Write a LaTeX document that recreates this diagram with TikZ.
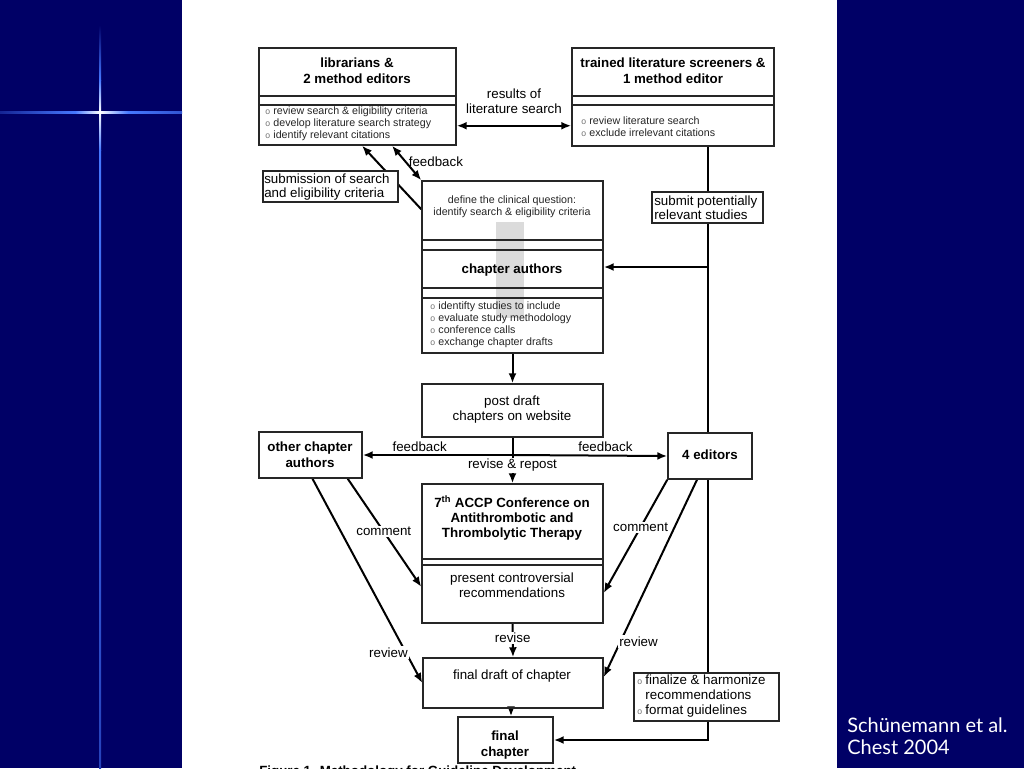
\documentclass[tikz,border=0pt]{standalone}
\usepackage{fontspec}
\setmainfont{Liberation Sans}
\newfontfamily\creditfont{Lato}
\usetikzlibrary{arrows.meta,fit,calc}
\definecolor{bgnavy}{RGB}{0,0,102}
\definecolor{starblue}{RGB}{70,120,255}
\newcommand{\bul}{{\color{black!55}\fontsize{6.5}{6.5}\selectfont o}\hspace{2.5pt}}
\pgfdeclarelayer{back}
\pgfdeclarelayer{lines}
\pgfsetlayers{back,lines,main}
\tikzset{
  frm/.style={draw=black!85, line width=1.1pt, inner sep=0pt},
  wfrm/.style={draw=black!85, fill=white, line width=1.1pt, inner sep=0pt},
  ttl/.style={font=\fontsize{10}{12}\selectfont\bfseries, align=center, inner sep=0pt},
  txt/.style={font=\fontsize{10}{11.25}\selectfont, align=center, inner sep=0pt},
  ltxt/.style={font=\fontsize{10}{10.8}\selectfont, align=left, inner sep=0pt},
  sml/.style={font=\fontsize{8}{9}\selectfont, align=left, inner sep=0pt, text=black!85},
  smc/.style={font=\fontsize{8}{9}\selectfont, align=center, inner sep=0pt, text=black!85},
  lbl/.style={font=\fontsize{10}{12}\selectfont, fill=white, inner sep=1pt},
  plbl/.style={font=\fontsize{10}{12}\selectfont, inner sep=1pt},
  ln/.style={line width=1.5pt},
  sep/.style={line width=1.1pt, draw=black!85},
  arr/.style={line width=1.5pt, -{Latex[length=7.5pt,width=6pt]}},
  dbl/.style={line width=1.5pt, {Latex[length=7.5pt,width=6pt]}-{Latex[length=7.5pt,width=6pt]}}
}
\begin{document}
\begin{tikzpicture}[x=0.75pt,y=-0.75pt]
\useasboundingbox (0,0) rectangle (1024,768);
\begin{pgfonlayer}{back}
% background
\fill[bgnavy] (0,0) rectangle (1024,768);
\fill[white] (182,0) rectangle (837,768);
% star
\shade[left color=bgnavy!70!starblue, right color=starblue] (0,111) rectangle (75,113);
\shade[left color=starblue, right color=white] (75,111) rectangle (100,113);
\shade[left color=white, right color=starblue] (100,111) rectangle (128,113);
\shade[left color=starblue, right color=bgnavy!30!starblue] (128,111) rectangle (182,113);
\shade[top color=bgnavy, bottom color=starblue] (99,25) rectangle (101,80);
\shade[top color=starblue, bottom color=white] (99,80) rectangle (101,112);
\shade[top color=white, bottom color=starblue] (99,112) rectangle (101,150);
\shade[top color=starblue, bottom color=bgnavy!45!starblue] (99,150) rectangle (101,768);
\fill[white] (100,112) circle (1.6);
% grey arrow bar behind chapter box
\fill[black!14] (496,222) rectangle (524,318);
\end{pgfonlayer}
% credit
\node[font=\creditfont\fontsize{15}{16.5}\selectfont, text=white, align=left, anchor=north west, inner sep=0pt] (credit) at (847,717) {Schünemann et al.\\Chest 2004};

% boxes
\node[frm, fit={(259,48) (456,145)}] (lib) {};
\draw[sep] (lib.west |- 0,96) -- (lib.east |- 0,96);
\draw[sep] (lib.west |- 0,105) -- (lib.east |- 0,105);
\node[ttl] (libT) at (357,71) {librarians \&\\2 method editors};
\node[sml, anchor=west] (libL) at (265,124) {\bul review search \& eligibility criteria\\\bul develop literature search strategy\\\bul identify relevant citations};

\node[frm, fit={(572,48) (774,146)}] (tls) {};
\draw[sep] (tls.west |- 0,96) -- (tls.east |- 0,96);
\draw[sep] (tls.west |- 0,105) -- (tls.east |- 0,105);
\node[ttl] (tlsT) at (673,71) {trained literature screeners \&\\1 method editor};
\node[sml, anchor=west] (tlsL) at (581,127) {\bul review literature search\\\bul exclude irrelevant citations};

\node[frm, fit={(422,181) (603,353)}] (cha) {};
\draw[sep] (cha.west |- 0,240) -- (cha.east |- 0,240);
\draw[sep] (cha.west |- 0,250) -- (cha.east |- 0,250);
\draw[sep] (cha.west |- 0,288) -- (cha.east |- 0,288);
\draw[sep] (cha.west |- 0,298) -- (cha.east |- 0,298);
\node[smc] (chaQ) at (512,207) {define the clinical question:\\identify search \& eligibility criteria};
\node[ttl] (chaT) at (512,270) {chapter authors};
\node[sml, anchor=west] (chaL) at (430,325) {\bul identifty studies to include\\\bul evaluate study methodology\\\bul conference calls\\\bul exchange chapter drafts};

\node[frm, fit={(422,384) (603,437)}] (post) {};
\node[txt] (postT) at (512,410) {post draft\\chapters on website};

\node[frm, fit={(259,432) (362,478)}] (other) {};
\node[ttl] (otherT) at (310,455) {other chapter\\authors};

\node[frm, fit={(668,433) (752,479)}] (ed4) {};
\node[ttl] (ed4T) at (710,455) {4 editors};

\node[frm, fit={(422,484) (603,623)}] (conf) {};
\draw[sep] (conf.west |- 0,559) -- (conf.east |- 0,559);
\draw[sep] (conf.west |- 0,565) -- (conf.east |- 0,565);
\node[ttl, font=\fontsize{10}{11.25}\selectfont\bfseries] (confT) at (512,518) {7\textsuperscript{th} ACCP Conference on\\Antithrombotic and\\Thrombolytic Therapy};
\node[txt] (confP) at (512,585) {present controversial\\recommendations};

\node[frm, fit={(423,658) (603,708)}] (fdraft) {};
\node[txt] (fdraftT) at (512,676) {final draft of chapter};

\node[frm, fit={(458,717) (553,763)}] (fch) {};
\node[ttl] (fchT) at (505,745) {final\\chapter};

\node[frm, fit={(634,673) (779,721)}] (finz) {};
\node[font=\fontsize{10}{11.25}\selectfont, align=left, inner sep=0pt, anchor=west] (finzT) at (637,696) {\bul finalize \& harmonize\\\phantom{\bul}recommendations\\\bul format guidelines};

% label boxes that sit on lines
\node[wfrm, fit={(263,171) (398,202)}] (subm) {};
\node[ltxt, anchor=west] (submT) at (264,187) {submission of search\\and eligibility criteria};
\node[wfrm, fit={(652,192) (763,223)}] (spr) {};
\node[ltxt, anchor=west] (sprT) at (654,208) {submit potentially\\relevant studies};

% connectors
\begin{pgfonlayer}{lines}
\draw[dbl] ([yshift=15pt]lib.south east) -- ([yshift=15pt]lib.south east -| tls.west)
  node[midway, above=8pt, txt] (resL) {results of\\literature search};
\draw[dbl] ([xshift=25.9pt]lib.south) -- (cha.north west)
  node[pos=0.45, anchor=west, plbl, xshift=1pt] (fbT) {feedback};
\draw[arr] ([yshift=-21.75pt]cha.north west) -- ([xshift=3.4pt]lib.south);

\draw[ln] (spr.north |- tls.south) -- (spr.north |- ed4.north);
\draw[arr] (spr.north |- cha.east) -- (cha.east);
\draw[ln] (spr.north |- ed4.south) -- (spr.north |- finz.north);
\draw[arr] (spr.north |- finz.south) |- (fch.east);

\draw[arr] (cha.south) -- (post.north);
\draw[arr] (post.south) -- (conf.north) node[pos=0.6, lbl] (rrL) {revise \& repost};
\draw[arr] (post.south |- other.east) -- (other.east) node[pos=0.62, above=1pt, plbl] (fbL) {feedback};
\draw[arr] (post.south |- other.east) -- (ed4.west) node[pos=0.6, above=1pt, plbl] (fbR) {feedback};

\draw[arr] ([xshift=-11.25pt]other.south east) -- ([yshift=-25pt]conf.west) node[pos=0.49, lbl] (cmL) {comment};
\draw[arr] ([xshift=1.5pt]other.south) -- (fdraft.west) node[pos=0.85, lbl, xshift=-13pt] (rvL) {review};
\draw[arr] (ed4.south west) -- ([yshift=-29.6pt]conf.east) node[pos=0.42, lbl] (cmR) {comment};
\draw[arr] ([xshift=-9.75pt]ed4.south) -- ([yshift=4.5pt]fdraft.east) node[pos=0.82, lbl, xshift=13.5pt] (rvR) {review};

\draw[arr] (conf.south) -- (fdraft.north) node[pos=0.43, lbl] (rvs) {revise};
\draw[arr] ([xshift=-1.5pt]fdraft.south) -- ([xshift=-1.5pt]fdraft.south |- fch.north);
\end{pgfonlayer}

% caption (cut off at bottom edge, as in the reference)
\node[font=\fontsize{10}{12}\selectfont\bfseries, anchor=base west, inner sep=0pt] (cap) at (259,775) {Figure 1. Methodology for Guideline Development};
\end{tikzpicture}
\end{document}
